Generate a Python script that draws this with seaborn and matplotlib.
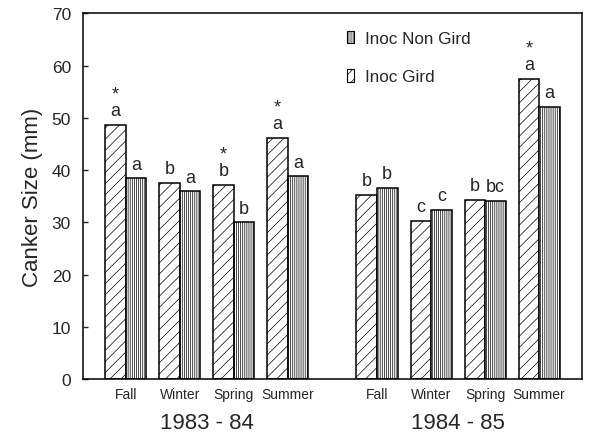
import numpy as np
import pandas as pd
import matplotlib
matplotlib.use("Agg")
import matplotlib.pyplot as plt
import seaborn as sns
from matplotlib.patches import Patch
from matplotlib.transforms import blended_transform_factory

# ---------------- data ----------------
seasons = ["Fall", "Winter", "Spring", "Summer"]
years = ["1983 - 84", "1984 - 85"]
treatments = ["Inoc Gird", "Inoc Non Gird"]

gird_8384 = [48.7, 37.5, 37.1, 46.1]
nongird_8384 = [38.4, 35.9, 30.0, 38.8]
gird_8485 = [35.2, 30.3, 34.3, 57.5]
nongird_8485 = [36.6, 32.4, 34.1, 52.1]

letters_gird_8384 = ["a", "b", "b", "a"]
letters_nongird_8384 = ["a", "a", "b", "a"]
letters_gird_8485 = ["b", "c", "b", "a"]
letters_nongird_8485 = ["b", "c", "bc", "a"]
stars_gird_8384 = [True, False, True, True]
stars_gird_8485 = [False, False, False, True]

yticks = [0, 10, 20, 30, 40, 50, 60, 70]

# ---------------- style ----------------
sns.set_style("ticks")
plt.rcParams["font.family"] = ["Liberation Sans", "DejaVu Sans"]
plt.rcParams["hatch.linewidth"] = 0.5
plt.rcParams["hatch.color"] = "black"

# layout of groups (second year shifted by a gap)
year_offset = [0.0, 4.65]
positions = [[year_offset[k] + i for i in range(len(seasons))] for k in range(len(years))]

rows = []
gird_vals = [gird_8384, gird_8485]
nongird_vals = [nongird_8384, nongird_8485]
for k in range(len(years)):
    for i, s in enumerate(seasons):
        rows.append(dict(pos=positions[k][i], year=years[k], season=s,
                         treatment=treatments[0], value=gird_vals[k][i]))
        rows.append(dict(pos=positions[k][i], year=years[k], season=s,
                         treatment=treatments[1], value=nongird_vals[k][i]))
df = pd.DataFrame(rows)

fig = plt.figure(figsize=(5.89, 4.39), dpi=100)
ax = fig.add_axes([0.1404, 0.1344, 0.9876 - 0.1404, 0.9674 - 0.1344])

sns.barplot(data=df, x="pos", y="value", hue="treatment", hue_order=treatments,
            native_scale=True, width=0.76, errorbar=None, legend=False, ax=ax)

hatches = {treatments[0]: "///", treatments[1]: "|" * 8}
for cont, tr in zip(ax.containers, treatments):
    for bar in cont:
        bar.set_facecolor("white")
        bar.set_edgecolor("black")
        bar.set_linewidth(1.1)
        bar.set_hatch(hatches[tr])

# significance letters
letters = {treatments[0]: letters_gird_8384 + letters_gird_8485,
           treatments[1]: letters_nongird_8384 + letters_nongird_8485}
stars = stars_gird_8384 + stars_gird_8485
for cont, tr in zip(ax.containers, treatments):
    bars = sorted(cont, key=lambda b: b.get_x())
    for j, bar in enumerate(bars):
        xc = bar.get_x() + bar.get_width() / 2
        h = bar.get_height()
        ax.annotate(letters[tr][j], xy=(xc, h), xytext=(0, 7), textcoords="offset points",
                    ha="center", va="baseline", fontsize=13)
        if tr == treatments[0] and stars[j]:
            ax.annotate("*", xy=(xc, h), xytext=(0, 19), textcoords="offset points",
                        ha="center", va="baseline", fontsize=13)

ax.set_xlim(-0.8, 8.44)
ax.set_ylim(0, 70)
ax.set_yticks(yticks)
ax.set_yticklabels([str(v) for v in yticks], fontsize=12.5)
allpos = positions[0] + positions[1]
ax.set_xticks(allpos)
ax.set_xticklabels(seasons * len(years), fontsize=10)
ax.tick_params(axis="x", length=0, pad=6)
ax.tick_params(axis="y", direction="in", length=3.5, width=1.0, pad=8.5)
ax.set_xlabel("")
ax.set_ylabel("Canker Size (mm)", fontsize=16, labelpad=6)
for sp in ax.spines.values():
    sp.set_visible(True)
    sp.set_linewidth(1.1)
    sp.set_color("black")

trans = blended_transform_factory(ax.transData, ax.transAxes)
for k, y in enumerate(years):
    ax.text(np.mean(positions[k]), -0.12, y, transform=trans, ha="center", va="center",
            fontsize=16)

handles = [Patch(facecolor="white", edgecolor="black", hatch=hatches[treatments[1]], linewidth=0.8),
           Patch(facecolor="white", edgecolor="black", hatch=hatches[treatments[0]], linewidth=0.8)]
ax.legend(handles, [treatments[1], treatments[0]], loc="upper left",
          bbox_to_anchor=(0.529, 0.952), frameon=False, fontsize=12.3,
          handlelength=0.45, handleheight=0.75, handletextpad=0.6,
          labelspacing=1.35, borderpad=0, borderaxespad=0)

fig.savefig("out.png", dpi=100)
